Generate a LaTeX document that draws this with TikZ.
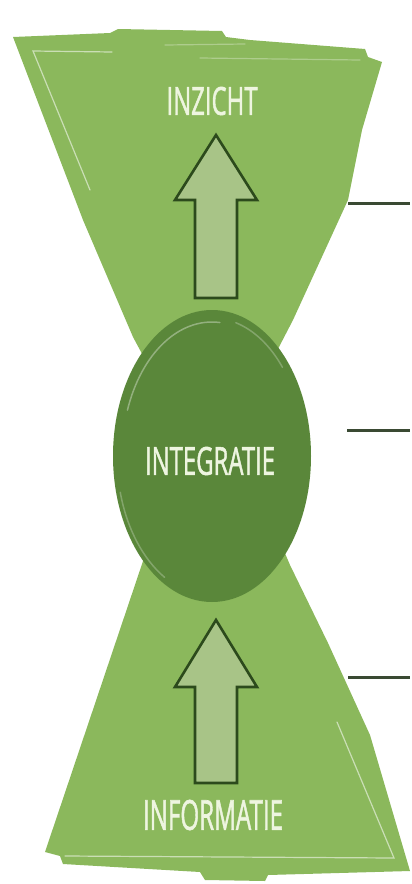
\documentclass[tikz,border=0pt]{standalone}
\usepackage{fontspec}
\usepackage{graphicx}
\newfontfamily\lblfont[FakeBold=1.6]{Open Sans}
\usetikzlibrary{shapes.geometric}
\definecolor{trigreen}{HTML}{8BB85C}
\definecolor{circgreen}{HTML}{5A873A}
\definecolor{arrowfill}{HTML}{A8C487}
\definecolor{arrowline}{HTML}{2C4A1C}
\definecolor{lbl}{HTML}{EEF5E0}
\definecolor{tick}{HTML}{3A4A33}
\tikzset{
  tri/.style={fill=trigreen, draw=none},
  inset/.style={draw=white, draw opacity=0.55, line width=1.2pt, line cap=round},
  blockarrow/.style={fill=arrowfill, draw=arrowline, line width=2.6pt, line join=miter},
  lbltext/.style={text=lbl, inner sep=0pt},
  ticktext/.style={draw=tick, line width=3pt},
  brush/.style={draw=white, draw opacity=0.35, line width=1.5pt, line cap=round}
}
\newcommand{\mklabel}[3]{\resizebox{#1pt}{#2pt}{\lblfont #3}}
\begin{document}
\begin{tikzpicture}[x=1pt,y=-1pt]
\useasboundingbox (0,0) rectangle (412,884);
% top triangle
\path[tri] (13,37) -- (110,33) -- (118,29) -- (222,31) -- (226,37) -- (250,40)
  -- (365,49) -- (368,57) -- (382,62) -- (362,130) -- (348,200) -- (293,320)
  -- (210,480) -- (133,337) -- (83,220) -- cycle;
\draw[inset] (112,52) -- (33,51) -- (90,190);
\draw[inset, draw opacity=0.3] (165,45) -- (245,44);
\draw[inset, draw opacity=0.3] (200,58) -- (360,60);
% bottom triangle
\path[tri] (207,370) -- (290,565) -- (328,643) -- (370,735) -- (410,871)
  -- (268,875) -- (265,881) -- (205,880) -- (200,872) -- (63,864) -- (60,856)
  -- (45,852) -- (140,570) -- cycle;
\draw[inset] (337,722) -- (394,858) -- (65,856);
% arrows
\path[blockarrow] (216,135) -- (257,200) -- (237,200) -- (237,298) -- (195,298)
  -- (195,200) -- (175,200) -- cycle;
\path[blockarrow] (216,620) -- (257,687) -- (237,687) -- (237,783) -- (195,783)
  -- (195,687) -- (175,687) -- cycle;
% central circle
\node[ellipse, fill=circgreen, minimum width=198pt, minimum height=292pt, inner sep=0pt] (circ) at (212,456) {};
\draw[brush] (circ.center) ++(160:90pt and 134pt) arc[start angle=160, end angle=85, x radius=90pt, y radius=134pt];
\draw[brush, draw opacity=0.25] (circ.center) ++(75:92pt and 138pt) arc[start angle=75, end angle=40, x radius=92pt, y radius=138pt];
\draw[brush, draw opacity=0.25] (circ.center) ++(195:95pt and 140pt) arc[start angle=195, end angle=240, x radius=95pt, y radius=140pt];
% labels
\node[lbltext] (inz) at (212,101) {\mklabel{91}{28}{INZICHT}};
\node[lbltext] (intg) at (210,461) {\mklabel{130}{28}{INTEGRATIE}};
\node[lbltext] (inf) at (213,815) {\mklabel{140}{30}{INFORMATIE}};
% ticks on right
\coordinate (t1a) at (348,203); \coordinate (t1b) at (410,203);
\coordinate (t2a) at (347,430); \coordinate (t2b) at (410,430);
\coordinate (t3a) at (348,677); \coordinate (t3b) at (410,677);
\draw[ticktext] (t1a) -- (t1b);
\draw[ticktext] (t2a) -- (t2b);
\draw[ticktext] (t3a) -- (t3b);
\end{tikzpicture}
\end{document}
